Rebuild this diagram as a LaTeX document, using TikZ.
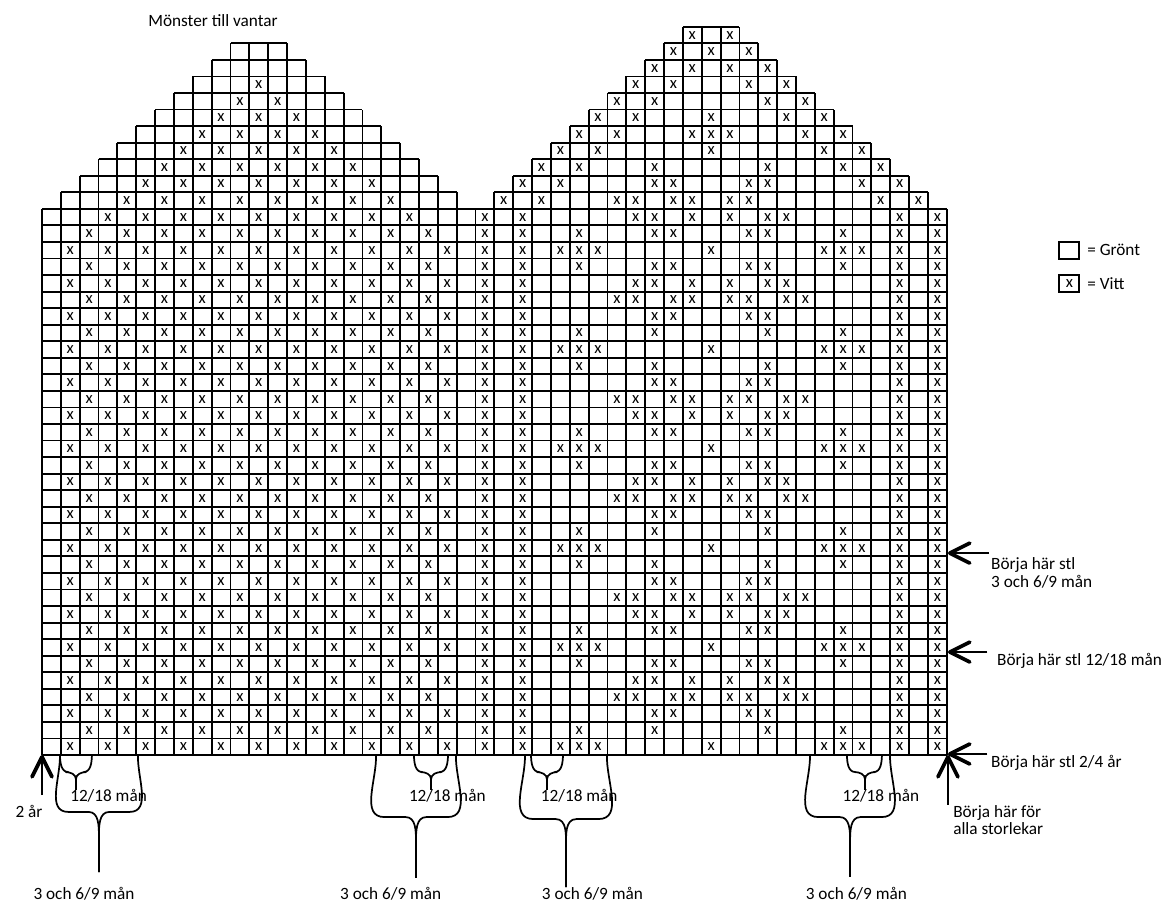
\documentclass[tikz,border=0pt]{standalone}
\usepackage{fontspec}
\setmainfont{Carlito}
\usetikzlibrary{arrows.meta}
%patterns of the right mitten, by columns
\def\patA{31,32,34,36,38,39}
\def\patB{28,32,33,37,38,42}
\def\patC{27,28,29,35,41,42,43}
\def\patD{30,31,33,34,36,37,39,40}
\def\patE{32,33,37,38}
\def\patF{28,32,38,42}
\begin{document}
\begin{tikzpicture}[x=0.5cm,y=0.439cm,
		cell/.style={line width=1.4pt,step={(1,1)}},
		xmark/.style={inner sep=0pt,font=\fontsize{12.5}{13}\selectfont},
		lbl/.style={inner sep=0pt,font=\fontsize{13}{13.5}\selectfont},
		startarrow/.style={line width=1.3pt,-{Straight Barb[length=5.3mm,width=5.3mm,line width=2.8pt,round]}},
		brace/.style={line width=1.3pt}]
			\newcommand{\xrow}[2]{
				\foreach \c in #2 {\node[xmark] (x#1-\c) at (\c+0.5,#1+0.5) {x};}
			}\newcommand{\knitbrace}[5]{
				\draw[brace] (#1,0) to[out=-88,in=180] (#1+0.45,#3) -- (#4-0.55,#3) to[out=0,in=90] (#4,{#3-0.4*(#3-(#5))}) -- (#4,#5);
				\draw[brace] (#2,0) to[out=-92,in=0] (#2-0.45,#3) -- (#4+0.55,#3) to[out=180,in=90] (#4,{#3-0.4*(#3-(#5))}) -- (#4,#5);
			}%Page
			\useasboundingbox (-2.228,-8.822) rectangle (60.0,45.62);
			%Title
			\node[lbl] (title) at (9.07,44.35) {Mönster till vantar};
			%Body of both mittens
			\draw[cell] (0,0) grid (48,33);
			%Top of the left mitten
			\foreach \r in {33,...,42} {
				\pgfmathtruncatemacro\lo{\r-32}
				\pgfmathtruncatemacro\hi{55-\r}
				\draw[cell] (\lo,\r) grid (\hi,\r+1);
			}
			%Top of the right mitten
			\foreach \r in {33,...,43} {
				\pgfmathtruncatemacro\lo{\r-9}
				\pgfmathtruncatemacro\hi{80-\r}
				\draw[cell] (\lo,\r) grid (\hi,\r+1);
			}
			%Left mitten: diagonal x
			\foreach \r in {0,...,40} {
				\pgfmathtruncatemacro\lo{max(1,\r-29)}
				\pgfmathtruncatemacro\hi{min(21,51-\r)}
				\foreach \c in {\lo,...,\hi} {
					\pgfmathtruncatemacro\s{mod(\c+\r,2)}
					\ifnum\s=1 \node[xmark] (x\r-\c) at (\c+0.5,\r+0.5) {x}; \fi
				}
			}
			%Right mitten: edge stripes
			\foreach \r in {0,...,32} {
				\xrow{\r}{{23,25,45,47}}
			}
			%Right mitten: stars
			\xrow{0}{\patC}
			\xrow{1}{\patF}
			\xrow{2}{\patE}
			\xrow{3}{\patD}
			\xrow{4}{\patA}
			\xrow{5}{\patB}
			\xrow{6}{\patC}
			\xrow{7}{\patB}
			\xrow{8}{\patA}
			\xrow{9}{\patD}
			\xrow{10}{\patE}
			\xrow{11}{\patF}
			\xrow{12}{\patC}
			\xrow{13}{\patF}
			\xrow{14}{\patE}
			\xrow{15}{\patD}
			\xrow{16}{\patA}
			\xrow{17}{\patB}
			\xrow{18}{\patC}
			\xrow{19}{\patB}
			\xrow{20}{\patA}
			\xrow{21}{\patD}
			\xrow{22}{\patE}
			\xrow{23}{\patF}
			\xrow{24}{\patC}
			\xrow{25}{\patF}
			\xrow{26}{\patE}
			\xrow{27}{\patD}
			\xrow{28}{\patA}
			\xrow{29}{\patB}
			\xrow{30}{\patC}
			\xrow{31}{\patB}
			\xrow{32}{\patA}
			%Right mitten: top
			\xrow{33}{{24,26,30,31,33,34,36,37,44,46}}
			\xrow{34}{{25,27,32,33,37,38,43,45}}
			\xrow{35}{{26,28,32,38,42,44}}
			\xrow{36}{{27,29,35,41,43}}
			\xrow{37}{{28,30,34,35,36,40,42}}
			\xrow{38}{{29,31,35,39,41}}
			\xrow{39}{{30,32,38,40}}
			\xrow{40}{{31,33,37,39}}
			\xrow{41}{{32,34,36,38}}
			\xrow{42}{{33,35,37}}
			\xrow{43}{{34,36}}
			%Legend
			\node[cell,draw,minimum width=0.53cm,minimum height=0.45cm] (keygreen) at (54.5,30.5) {};
			\node[cell,draw,minimum width=0.53cm,minimum height=0.45cm,xmark] (keywhite) at (54.5,28.5) {x};
			\node[lbl,anchor=west] (green) at (55.44,30.5) {= Grönt};
			\node[lbl,anchor=west] (white) at (55.44,28.5) {= Vitt};
			%Start arrows on the right
			\coordinate (tip36) at (48.06,12.2);
			\coordinate (tail36) at (50.25,12.2);
			\coordinate (tip1218) at (48.06,6.22);
			\coordinate (tail1218) at (50.15,6.22);
			\coordinate (tip24) at (48.06,0.06);
			\coordinate (tail24) at (50.15,0.06);
			\coordinate (tipall) at (48.06,0.0);
			\coordinate (tailall) at (48.06,-3.0);
			\draw[startarrow] (tail36) -- (tip36);
			\draw[startarrow] (tail1218) -- (tip1218);
			\draw[startarrow] (tail24) -- (tip24);
			\draw[startarrow] (tailall) -- (tipall);
			\node[lbl,anchor=west,align=left] (lab36) at (50.34,11.0) {Börja här stl\\3 och 6/9 mån};
			\node[lbl,anchor=west] (lab1218) at (50.66,5.68) {Börja här stl 12/18 mån};
			\node[lbl,anchor=west] (lab24) at (50.34,-0.5) {Börja här stl 2/4 år};
			\node[lbl,anchor=west,align=left] (laball) at (48.33,-3.93) {Börja här för\\alla storlekar};
			%Start arrow on the left
			\coordinate (tip2) at (0,0);
			\coordinate (tail2) at (0,-2.42);
			\draw[startarrow] (tail2) -- (tip2);
			\node[lbl] (lab2) at (-0.69,-3.44) {2 år};
			%Braces under the chart
			\knitbrace{0.95}{2.65}{-1.03}{1.8}{-2.11}
			\knitbrace{0.95}{5.09}{-3.44}{3.02}{-7.07}
			\knitbrace{19.73}{21.54}{-1.03}{20.64}{-2.11}
			\knitbrace{17.72}{21.96}{-3.75}{19.84}{-7.43}
			\knitbrace{25.94}{27.64}{-1.03}{26.79}{-2.11}
			\knitbrace{25.62}{29.97}{-3.87}{27.8}{-7.98}
			\knitbrace{42.7}{44.56}{-1.03}{43.66}{-2.11}
			\knitbrace{40.74}{44.99}{-3.75}{42.87}{-7.37}
			\node[lbl] (sm1) at (3.53,-2.48) {12/18 mån};
			\node[lbl] (sm2) at (21.5,-2.48) {12/18 mån};
			\node[lbl] (sm3) at (28.5,-2.48) {12/18 mån};
			\node[lbl] (sm4) at (44.5,-2.48) {12/18 mån};
			\node[lbl] (big1) at (2.23,-8.37) {3 och 6/9 mån};
			\node[lbl] (big2) at (18.5,-8.37) {3 och 6/9 mån};
			\node[lbl] (big3) at (29.2,-8.37) {3 och 6/9 mån};
			\node[lbl] (big4) at (43.2,-8.37) {3 och 6/9 mån};
			\end{tikzpicture}
\end{document}
